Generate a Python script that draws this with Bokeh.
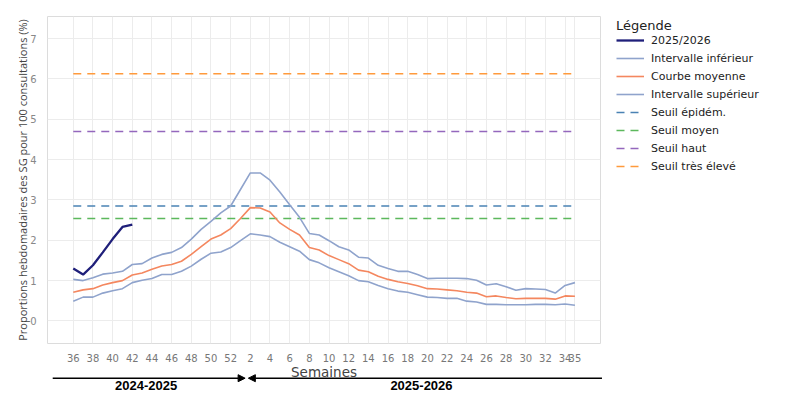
from bokeh.plotting import figure
from bokeh.layouts import column, row
from bokeh.models import (Range1d, FixedTicker, Legend, LegendItem, Arrow,
                          NormalHead, ColumnDataSource)
from bokeh.core.properties import value
from bokeh.embed import file_html
from bokeh.resources import INLINE

# Surveillance weeks, from week 36 of one season to week 35 of the next
weeks = ["36", "37", "38", "39", "40", "41", "42", "43", "44", "45", "46",
         "47", "48", "49", "50", "51", "52", "1", "2", "3", "4", "5", "6",
         "7", "8", "9", "10", "11", "12", "13", "14", "15", "16", "17", "18",
         "19", "20", "21", "22", "23", "24", "25", "26", "27", "28", "29",
         "30", "31", "32", "33", "34", "35"]

tick_weeks = ["36", "38", "40", "42", "44", "46", "48", "50", "52", "2", "4",
              "6", "8", "10", "12", "14", "16", "18", "20", "22", "24", "26",
              "28", "30", "32", "34", "35"]

# Current season (2025/2026), weeks reported so far
current = [1.30, 1.15, 1.38, 1.70, 2.03, 2.33, 2.39]

# Historical lower bound, mean curve and upper bound
lower = [0.49, 0.59, 0.59, 0.69, 0.75, 0.80, 0.95, 1.01, 1.05, 1.15, 1.15,
         1.23, 1.36, 1.53, 1.68, 1.71, 1.82, 1.99, 2.16, 2.13, 2.09, 1.95,
         1.84, 1.73, 1.52, 1.44, 1.32, 1.22, 1.12, 1.00, 0.97, 0.88, 0.80,
         0.74, 0.71, 0.65, 0.59, 0.58, 0.56, 0.56, 0.49, 0.47, 0.41, 0.41,
         0.40, 0.40, 0.40, 0.41, 0.41, 0.40, 0.42, 0.39]

mean = [0.71, 0.77, 0.80, 0.89, 0.95, 1.00, 1.14, 1.19, 1.28, 1.36, 1.40,
        1.48, 1.65, 1.84, 2.03, 2.13, 2.29, 2.54, 2.81, 2.80, 2.70, 2.43,
        2.27, 2.13, 1.82, 1.76, 1.62, 1.52, 1.42, 1.26, 1.22, 1.11, 1.03,
        0.97, 0.93, 0.87, 0.80, 0.79, 0.77, 0.75, 0.71, 0.69, 0.60, 0.62,
        0.58, 0.55, 0.56, 0.56, 0.56, 0.54, 0.62, 0.61]

upper = [1.03, 1.00, 1.07, 1.16, 1.19, 1.23, 1.40, 1.42, 1.56, 1.65, 1.70,
         1.82, 2.03, 2.27, 2.47, 2.68, 2.85, 3.26, 3.67, 3.67, 3.49, 3.20,
         2.88, 2.57, 2.17, 2.13, 1.99, 1.84, 1.76, 1.58, 1.56, 1.38, 1.30,
         1.23, 1.23, 1.15, 1.05, 1.06, 1.06, 1.06, 1.05, 1.01, 0.89, 0.92,
         0.85, 0.76, 0.80, 0.79, 0.78, 0.69, 0.88, 0.95]

# Alert thresholds
threshold_names = ["Seuil épidém.", "Seuil moyen", "Seuil haut", "Seuil très élevé"]
threshold_values = [2.85, 2.54, 4.70, 6.13]
threshold_colors = ["#4a82b4", "#5cb85c", "#9467bd", "#ff9a3c"]

# Series styles (name, colour, width), in legend order
series_names = ["2025/2026", "Intervalle inférieur", "Courbe moyenne",
                "Intervalle supérieur"]
series_colors = ["#1f1f7a", "#8fa3cc", "#f4875f", "#8fa3cc"]
series_widths = [2.3, 1.6, 1.6, 1.6]

# Season bands along the week axis
seasons = ["2024-2025", "2025-2026"]
season_centers = [7.4, 35.4]

x_all = list(range(len(weeks)))
x_cur = x_all[:len(current)]

X0, X1 = -2.62, 53.6
LEFT, RIGHT = 47, 192
W = 792
PLOT_W = W - RIGHT + 1
TOP_H = 364
DASH = "8 6"

p = figure(width=PLOT_W, height=TOP_H, output_backend="svg", toolbar_location=None,
           x_range=Range1d(X0, X1), y_range=Range1d(-0.56, 7.55),
           min_border_left=LEFT, min_border_right=1, min_border_top=16,
           min_border_bottom=16, frame_align=False)
p.background_fill_color = "white"
p.border_fill_color = "white"
p.outline_line_color = "#dcdcdc"
p.outline_line_width = 1

# Grid
p.xgrid.grid_line_color = "#ececec"
p.ygrid.grid_line_color = "#ececec"

# X axis: week numbers
p.xaxis.ticker = FixedTicker(ticks=[weeks.index(w) for w in tick_weeks])
p.xaxis.major_label_overrides = {weeks.index(w): w for w in tick_weeks}
p.xaxis.axis_line_color = None
p.xaxis.major_tick_line_color = None
p.xaxis.minor_tick_line_color = None
p.xaxis.major_label_standoff = 4
p.xaxis.major_label_text_font = "DejaVu Sans"
p.xaxis.major_label_text_font_size = "10px"
p.xaxis.major_label_text_color = "#777777"

# Y axis
p.yaxis.ticker = FixedTicker(ticks=[0, 1, 2, 3, 4, 5, 6, 7])
p.yaxis.axis_label = "Proportions hebdomadaires des SG pour 100 consultations (%)"
p.yaxis.axis_line_color = None
p.yaxis.major_tick_line_color = None
p.yaxis.minor_tick_line_color = None
p.yaxis.major_label_standoff = 5
p.yaxis.major_label_text_font = "DejaVu Sans"
p.yaxis.major_label_text_font_size = "10px"
p.yaxis.major_label_text_color = "#888888"
p.yaxis.axis_label_text_font = "Open Sans"
p.yaxis.axis_label_text_font_size = "11px"
p.yaxis.axis_label_text_font_style = "normal"
p.yaxis.axis_label_text_color = "#444444"
p.yaxis.axis_label_standoff = -3

# Threshold lines across the whole season
for val, col in zip(threshold_values, threshold_colors):
    p.line([x_all[0], x_all[-1]], [val, val], line_color=col,
           line_width=1.5, line_dash=DASH)

# Curves
series_x = [x_cur, x_all, x_all, x_all]
series_y = [current, lower, mean, upper]
for xs, ys, col, lw in zip(series_x, series_y, series_colors, series_widths):
    p.line(xs, ys, line_color=col, line_width=lw)

# Legend panel on the right; each key is a short segment kept outside
# the panel's visible range so only the legend swatches show.
side = figure(width=W - PLOT_W, height=TOP_H, output_backend="svg",
              toolbar_location=None, x_range=Range1d(0, 1), y_range=Range1d(0, 1),
              min_border=0, x_axis_location=None, y_axis_location=None,
              frame_align=False)
side.grid.visible = False
side.outline_line_color = None
side.background_fill_color = "white"
side.border_fill_color = "white"

key_x, key_y = [-3, -2], [-3, -3]
items = []
for name, col, lw in zip(series_names, series_colors, series_widths):
    key = side.line(key_x, key_y, line_color=col, line_width=lw)
    items.append(LegendItem(label=name, renderers=[key]))
for name, col in zip(threshold_names, threshold_colors):
    key = side.line(key_x, key_y, line_color=col, line_width=1.5, line_dash=DASH)
    items.append(LegendItem(label=name, renderers=[key]))

legend = Legend(items=items, location=(15, 191), title="Légende",
                title_text_font="DejaVu Sans", title_text_font_size="13px",
                title_text_font_style="normal", title_text_color="#222222",
                title_standoff=0,
                label_text_font="DejaVu Sans", label_text_font_size="11px",
                label_text_color="#222222", glyph_width=28, glyph_height=14,
                label_height=14, spacing=4, label_standoff=7, padding=0,
                margin=0, border_line_alpha=0, background_fill_alpha=0)
side.add_layout(legend)

# Strip under the week axis: axis title, season arrows and season names.
# Same week scale as the chart, stretched over the full strip width.
scale = (PLOT_W - LEFT - 1) / (X1 - X0)
strip = figure(width=W, height=406 - TOP_H, output_backend="svg",
               toolbar_location=None,
               x_range=Range1d(X0 - LEFT / scale, X1 + (W - PLOT_W + 1) / scale),
               y_range=Range1d(406 - TOP_H, 0), min_border=0,
               x_axis_location=None, y_axis_location=None, frame_align=False)
strip.grid.visible = False
strip.outline_line_color = None
strip.background_fill_color = "white"
strip.border_fill_color = "white"

strip.text(x=[(X0 + X1) / 2], y=[7], text=["Semaines"], text_align="center",
           text_baseline="middle", text_font=value("DejaVu Sans"),
           text_font_size="13.5px", text_color="#444444")

arrow_y = 13.7
strip.add_layout(Arrow(end=NormalHead(size=7, fill_color="black", line_color="black"),
                       x_start=-2.09, y_start=arrow_y, x_end=17.47, y_end=arrow_y,
                       line_color="black", line_width=1.4))
strip.add_layout(Arrow(end=NormalHead(size=7, fill_color="black", line_color="black"),
                       x_start=53.75, y_start=arrow_y, x_end=17.8, y_end=arrow_y,
                       line_color="black", line_width=1.4))

season_src = ColumnDataSource(dict(x=season_centers, y=[21, 21], text=seasons))
strip.text(x="x", y="y", text="text", source=season_src, text_align="center",
           text_baseline="middle", text_font=value("Liberation Sans"),
           text_font_size="13px", text_font_style="bold", text_color="black")

layout = column(row(p, side, spacing=0), strip, spacing=0)
open("out.html", "w").write(file_html(layout, INLINE))
